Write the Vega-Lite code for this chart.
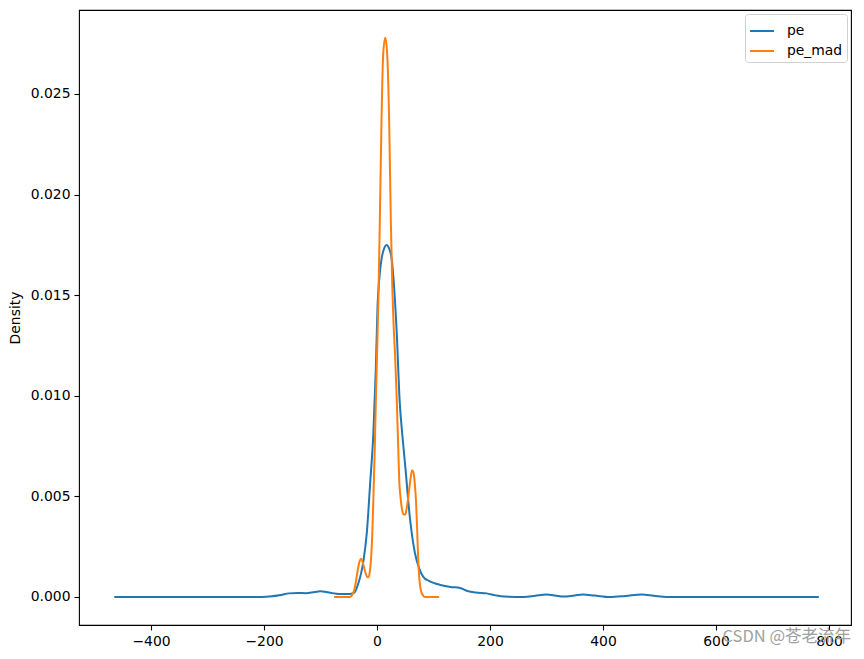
{
  "$schema": "https://vega.github.io/schema/vega-lite/v6.json",
  "autosize": {"type": "none"},
  "width": 772,
  "height": 615,
  "padding": {"left": 79, "top": 10, "right": 13, "bottom": 34},
  "background": "white",
  "title": {
    "text": "CSDN @苍老流年",
    "orient": "bottom",
    "anchor": "end",
    "offset": -19,
    "font": "Noto Sans CJK SC",
    "fontSize": 16.5,
    "fontWeight": "normal",
    "color": "#a0a0a0"
  },
  "config": {
    "font": "DejaVu Sans",
    "view": {"stroke": "black", "strokeWidth": 1.1},
    "axis": {
      "domain": false,
      "grid": false,
      "ticks": true,
      "tickColor": "black",
      "tickSize": 5,
      "tickWidth": 1.1,
      "labelColor": "black",
      "labelFontSize": 13.9,
      "labelPadding": 4,
      "titleColor": "black",
      "titleFontSize": 13.9,
      "titleFontWeight": "normal"
    }
  },
  "data": {
    "values": [
      {"series": "pe", "x": -465, "y": 0},
      {"series": "pe", "x": -300, "y": 0},
      {"series": "pe", "x": -220, "y": 0},
      {"series": "pe", "x": -190, "y": 0.00003},
      {"series": "pe", "x": -170, "y": 0.0001},
      {"series": "pe", "x": -156, "y": 0.00018},
      {"series": "pe", "x": -140, "y": 0.0002},
      {"series": "pe", "x": -126, "y": 0.00019},
      {"series": "pe", "x": -110, "y": 0.00025},
      {"series": "pe", "x": -100, "y": 0.00028},
      {"series": "pe", "x": -85, "y": 0.00022},
      {"series": "pe", "x": -67, "y": 0.00015},
      {"series": "pe", "x": -50, "y": 0.00015},
      {"series": "pe", "x": -40, "y": 0.00022},
      {"series": "pe", "x": -33, "y": 0.00068},
      {"series": "pe", "x": -28, "y": 0.0012},
      {"series": "pe", "x": -24, "y": 0.0018},
      {"series": "pe", "x": -18, "y": 0.0032},
      {"series": "pe", "x": -12, "y": 0.0057},
      {"series": "pe", "x": -6.5, "y": 0.0081},
      {"series": "pe", "x": -2, "y": 0.0114},
      {"series": "pe", "x": 1, "y": 0.0145},
      {"series": "pe", "x": 4, "y": 0.0158},
      {"series": "pe", "x": 8, "y": 0.0168},
      {"series": "pe", "x": 13, "y": 0.01735},
      {"series": "pe", "x": 17, "y": 0.0175},
      {"series": "pe", "x": 21, "y": 0.01735},
      {"series": "pe", "x": 26, "y": 0.0168},
      {"series": "pe", "x": 30, "y": 0.0155},
      {"series": "pe", "x": 35, "y": 0.0131},
      {"series": "pe", "x": 40, "y": 0.0098},
      {"series": "pe", "x": 45, "y": 0.008},
      {"series": "pe", "x": 50, "y": 0.0065},
      {"series": "pe", "x": 58, "y": 0.004},
      {"series": "pe", "x": 67, "y": 0.0022},
      {"series": "pe", "x": 75, "y": 0.0014},
      {"series": "pe", "x": 82, "y": 0.001},
      {"series": "pe", "x": 92, "y": 0.0008},
      {"series": "pe", "x": 100, "y": 0.0007},
      {"series": "pe", "x": 112, "y": 0.0006},
      {"series": "pe", "x": 130, "y": 0.0005},
      {"series": "pe", "x": 147, "y": 0.00045},
      {"series": "pe", "x": 160, "y": 0.0003},
      {"series": "pe", "x": 175, "y": 0.00022},
      {"series": "pe", "x": 194, "y": 0.00018},
      {"series": "pe", "x": 210, "y": 0.00008},
      {"series": "pe", "x": 225, "y": 0.00002},
      {"series": "pe", "x": 260, "y": 0},
      {"series": "pe", "x": 280, "y": 0.00006},
      {"series": "pe", "x": 300, "y": 0.00012},
      {"series": "pe", "x": 315, "y": 0.00008},
      {"series": "pe", "x": 330, "y": 0.00002},
      {"series": "pe", "x": 350, "y": 0.00008},
      {"series": "pe", "x": 365, "y": 0.00012},
      {"series": "pe", "x": 385, "y": 0.00007},
      {"series": "pe", "x": 412, "y": 0},
      {"series": "pe", "x": 440, "y": 0.00005},
      {"series": "pe", "x": 468, "y": 0.00012},
      {"series": "pe", "x": 490, "y": 0.00006},
      {"series": "pe", "x": 513, "y": 0},
      {"series": "pe", "x": 600, "y": 0},
      {"series": "pe", "x": 700, "y": 0},
      {"series": "pe", "x": 782, "y": 0},
      {"series": "pe_mad", "x": -76, "y": 0},
      {"series": "pe_mad", "x": -60, "y": 0},
      {"series": "pe_mad", "x": -48, "y": 0},
      {"series": "pe_mad", "x": -42, "y": 0.0002},
      {"series": "pe_mad", "x": -39, "y": 0.0005},
      {"series": "pe_mad", "x": -36, "y": 0.001},
      {"series": "pe_mad", "x": -33, "y": 0.0015},
      {"series": "pe_mad", "x": -30.5, "y": 0.0018},
      {"series": "pe_mad", "x": -28, "y": 0.0019},
      {"series": "pe_mad", "x": -25, "y": 0.0017},
      {"series": "pe_mad", "x": -21, "y": 0.00126},
      {"series": "pe_mad", "x": -17.5, "y": 0.001},
      {"series": "pe_mad", "x": -15, "y": 0.00098},
      {"series": "pe_mad", "x": -12.5, "y": 0.0013},
      {"series": "pe_mad", "x": -10.5, "y": 0.0019},
      {"series": "pe_mad", "x": -8.5, "y": 0.003},
      {"series": "pe_mad", "x": -6.5, "y": 0.0048},
      {"series": "pe_mad", "x": -4, "y": 0.0073},
      {"series": "pe_mad", "x": -2, "y": 0.0098},
      {"series": "pe_mad", "x": 0.5, "y": 0.0125},
      {"series": "pe_mad", "x": 2.5, "y": 0.0148},
      {"series": "pe_mad", "x": 5, "y": 0.0187},
      {"series": "pe_mad", "x": 8, "y": 0.0237},
      {"series": "pe_mad", "x": 11, "y": 0.027},
      {"series": "pe_mad", "x": 14.7, "y": 0.0278},
      {"series": "pe_mad", "x": 18, "y": 0.027},
      {"series": "pe_mad", "x": 21.5, "y": 0.0237},
      {"series": "pe_mad", "x": 24.5, "y": 0.0187},
      {"series": "pe_mad", "x": 27, "y": 0.0155},
      {"series": "pe_mad", "x": 29, "y": 0.0138},
      {"series": "pe_mad", "x": 32, "y": 0.012},
      {"series": "pe_mad", "x": 35, "y": 0.0098},
      {"series": "pe_mad", "x": 37.5, "y": 0.0075},
      {"series": "pe_mad", "x": 39.5, "y": 0.0057},
      {"series": "pe_mad", "x": 41.5, "y": 0.005},
      {"series": "pe_mad", "x": 44, "y": 0.0044},
      {"series": "pe_mad", "x": 47, "y": 0.0041},
      {"series": "pe_mad", "x": 50, "y": 0.0041},
      {"series": "pe_mad", "x": 52.5, "y": 0.0044},
      {"series": "pe_mad", "x": 55.5, "y": 0.005},
      {"series": "pe_mad", "x": 59, "y": 0.0058},
      {"series": "pe_mad", "x": 62, "y": 0.0063},
      {"series": "pe_mad", "x": 64.5, "y": 0.0062},
      {"series": "pe_mad", "x": 67, "y": 0.0056},
      {"series": "pe_mad", "x": 69, "y": 0.0048},
      {"series": "pe_mad", "x": 71, "y": 0.0034},
      {"series": "pe_mad", "x": 73, "y": 0.0018},
      {"series": "pe_mad", "x": 75, "y": 0.0009},
      {"series": "pe_mad", "x": 77.5, "y": 0.00035},
      {"series": "pe_mad", "x": 81, "y": 0.0001},
      {"series": "pe_mad", "x": 85, "y": 0},
      {"series": "pe_mad", "x": 95, "y": 0},
      {"series": "pe_mad", "x": 110, "y": 0}
    ]
  },
  "mark": {"type": "line", "strokeWidth": 2, "interpolate": "monotone", "clip": true},
  "encoding": {
    "x": {
      "field": "x",
      "type": "quantitative",
      "scale": {"domain": [-527.4, 838.9], "nice": false, "zero": false},
      "axis": {"values": [-400, -200, 0, 200, 400, 600, 800], "title": null, "format": "d"}
    },
    "y": {
      "field": "y",
      "type": "quantitative",
      "scale": {"domain": [-0.001392, 0.029175], "nice": false, "zero": false},
      "axis": {"values": [0, 0.005, 0.01, 0.015, 0.02, 0.025], "format": ".3f", "title": "Density", "titlePadding": 8}
    },
    "color": {
      "field": "series",
      "type": "nominal",
      "scale": {"domain": ["pe", "pe_mad"], "range": ["#1f77b4", "#ff7f0e"]},
      "legend": {
        "title": null,
        "orient": "top-right",
        "offset": 4,
        "padding": 4,
        "strokeColor": "#d0d0d0",
        "fillColor": "white",
        "cornerRadius": 3,
        "symbolType": "stroke",
        "symbolSize": 576,
        "symbolStrokeWidth": 2,
        "labelFontSize": 13.9,
        "labelColor": "black",
        "labelOffset": 12,
        "rowPadding": -1
      }
    }
  }
}
